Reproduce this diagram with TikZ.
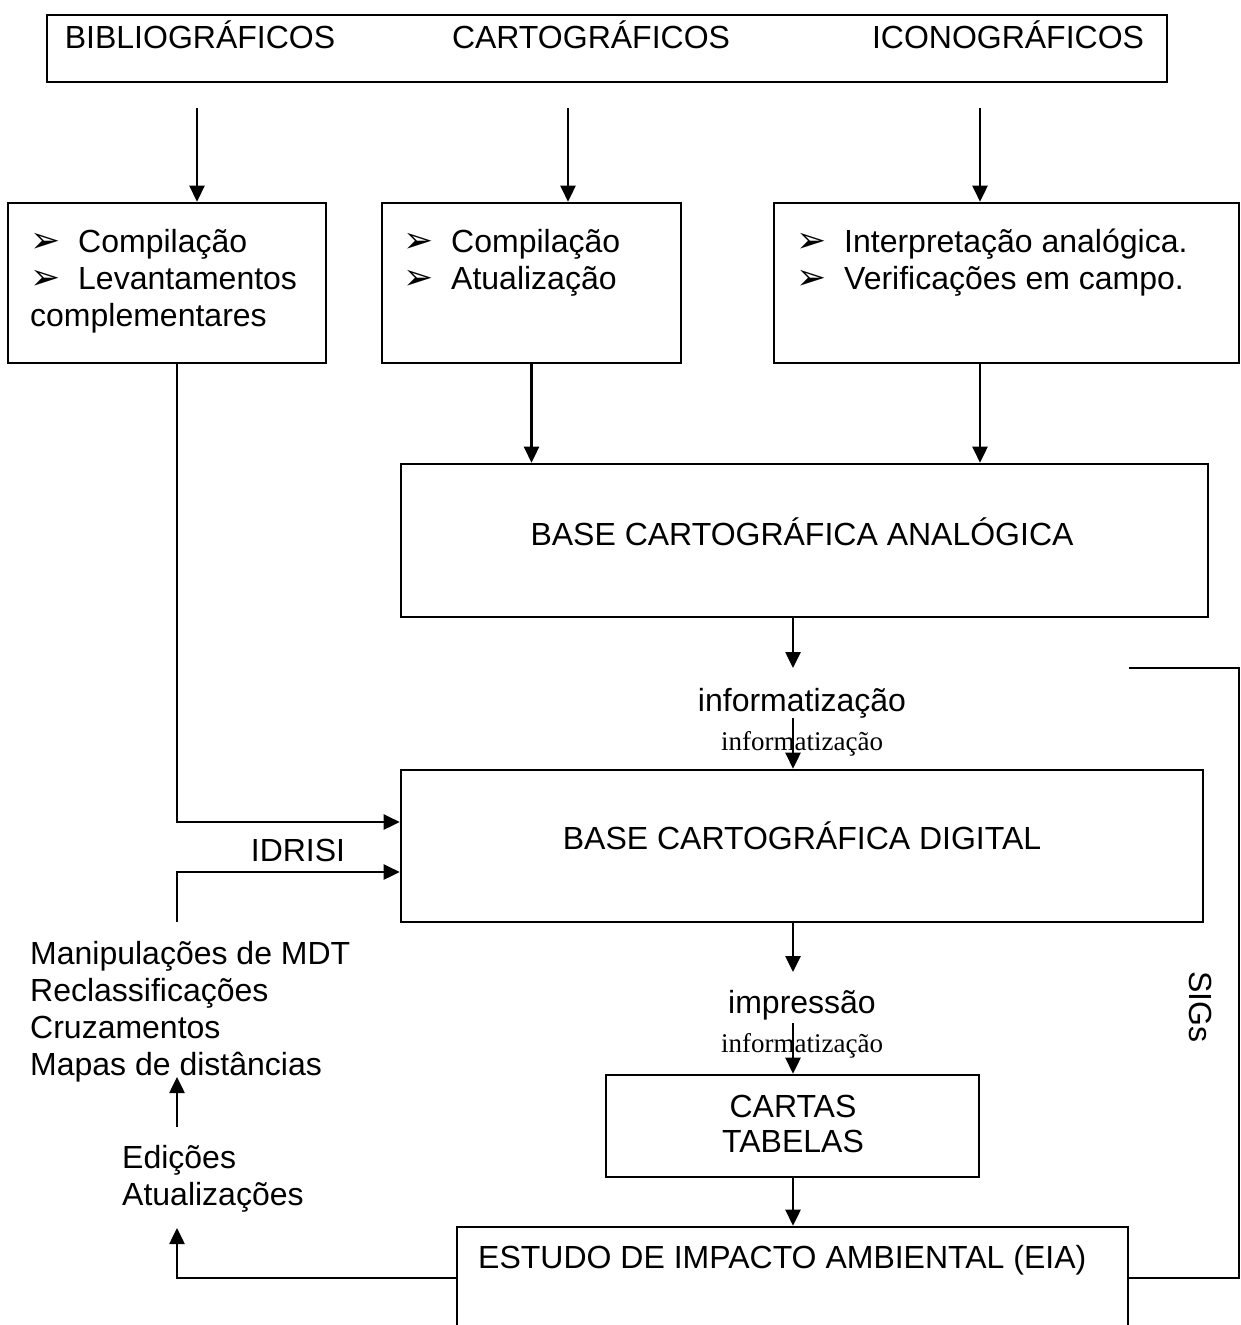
\documentclass[tikz,border=0pt]{standalone}
\usepackage{fontspec}
\setmainfont{Liberation Sans}
\newfontfamily\tmsfont{Liberation Serif}
\newfontfamily\djfont{DejaVu Sans}
\usetikzlibrary{arrows.meta,fit}
\begin{document}
\begin{tikzpicture}[x=1pt,y=-1pt,
  box/.style={draw, line width=2.6pt, inner sep=0pt},
  ln/.style={line width=2.6pt},
  arr/.style={line width=2.6pt, -{Triangle[length=16pt,width=15pt]}},
  txt/.style={inner sep=0pt, anchor=base west, font=\fontsize{32}{37}\selectfont},
  ctxt/.style={inner sep=0pt, anchor=base, font=\fontsize{32}{37}\selectfont},
  small/.style={inner sep=0pt, anchor=base, font=\tmsfont\fontsize{27}{27}\selectfont},
  bul/.style={inner sep=0pt, anchor=base west, font=\djfont\fontsize{36}{36}\selectfont}]
\useasboundingbox (0,0) rectangle (1241,1325);

% boxes
\node[box, fit={(47,15) (1167,82)}] (top) {};
\node[box, fit={(8,203) (326,363)}] (l1) {};
\node[box, fit={(382,203) (681,363)}] (l2) {};
\node[box, fit={(774,203) (1239,363)}] (l3) {};
\node[box, fit={(401,464) (1208,617)}] (bca) {};
\node[box, fit={(401,770) (1203,922)}] (bcd) {};
\node[box, fit={(606,1075) (979,1177)}] (cartas) {};
\node[box, fit={(457,1227) (1128,1329)}] (eia) {};

% texts
\node[ctxt] (tb) at (200,48) {BIBLIOGRÁFICOS};
\node[ctxt] (tc) at (591,48) {CARTOGRÁFICOS};
\node[ctxt] (ti) at (1008,48) {ICONOGRÁFICOS};

\node[bul] (b11) at (30,252) {➢};
\node[txt] (l1a) at (78,252) {Compilação};
\node[bul] (b12) at (30,289) {➢};
\node[txt] (l1b) at (78,289) {Levantamentos};
\node[txt] (l1c) at (30,326) {complementares};

\node[bul] (b21) at (403,252) {➢};
\node[txt] (l2a) at (451,252) {Compilação};
\node[bul] (b22) at (403,289) {➢};
\node[txt] (l2b) at (451,289) {Atualização};

\node[bul] (b31) at (796,252) {➢};
\node[txt] (l3a) at (844,252) {Interpretação analógica.};
\node[bul] (b32) at (796,289) {➢};
\node[txt] (l3b) at (844,289) {Verificações em campo.};

\node[ctxt] (bcat) at (802,545) {BASE CARTOGRÁFICA ANALÓGICA};
\node[ctxt] (bcdt) at (802,849) {BASE CARTOGRÁFICA DIGITAL};

\node[ctxt] (inf1) at (802,711) {informatização};
\node[small] (inf2) at (802,750) {informatização};
\node[ctxt] (imp) at (802,1013) {impressão};
\node[small] (inf3) at (802,1052) {informatização};

\node[ctxt] (idr) at (298,861) {IDRISI};

\node[txt] (m1) at (30,964) {Manipulações de MDT};
\node[txt] (m2) at (30,1001) {Reclassificações};
\node[txt] (m3) at (30,1038) {Cruzamentos};
\node[txt] (m4) at (30,1075) {Mapas de distâncias};

\node[txt] (ed1) at (122,1168) {Edições};
\node[txt] (ed2) at (122,1205) {Atualizações};

\node[ctxt] (ct1) at (793,1117) {CARTAS};
\node[ctxt] (ct2) at (793,1152) {TABELAS};

\node[txt] (eiat) at (478,1268) {ESTUDO DE IMPACTO AMBIENTAL (EIA)};

\node[inner sep=0pt, font=\fontsize{32}{37}\selectfont, rotate=-90] (sigs) at (1201,1007) {SIGs};

% coordinates
\coordinate (c1) at (197,108);
\coordinate (c2) at (568,108);
\coordinate (c3) at (980,108);
\coordinate (x3) at (980,0);
\coordinate (i1) at (793,668);
\coordinate (i2) at (793,718);
\coordinate (p1) at (793,972);
\coordinate (p2) at (793,1023);
\coordinate (v1) at (177,0);
\coordinate (m0) at (177,922);
\coordinate (u0) at (177,1127);
\coordinate (u1) at (177,1077);
\coordinate (e1) at (177,1228);
\coordinate (s1) at (1239,668);
\coordinate (s0) at (1129,668);

% connectors
\draw[arr] (c1) -- (c1 |- l1.north);
\draw[arr] (c2) -- (c2 |- l2.north);
\draw[arr] (c3) -- (c3 |- l3.north);
\draw[arr] (l2.south) -- (l2.south |- bca.north);
\draw[arr] (l3.south -| x3) -- (bca.north -| x3);
\draw[arr] (bca.south -| i1) -- (i1);
\draw[arr] (i2) -- (bcd.north -| i2);
\draw[arr] (bcd.south -| p1) -- (p1);
\draw[arr] (p2) -- (cartas.north -| p2);
\draw[arr] (cartas.south -| p2) -- (eia.north -| p2);
\draw[arr] (l1.south -| v1) |- ([yshift=24pt]bcd.west);
\draw[arr] (m0) |- ([yshift=-26pt]bcd.west);
\draw[arr] (u0) -- (u1);
\draw[arr] (eia.west) -| (e1);
\draw[ln] (eia.east) -| (s1) -- (s0);
\end{tikzpicture}
\end{document}
